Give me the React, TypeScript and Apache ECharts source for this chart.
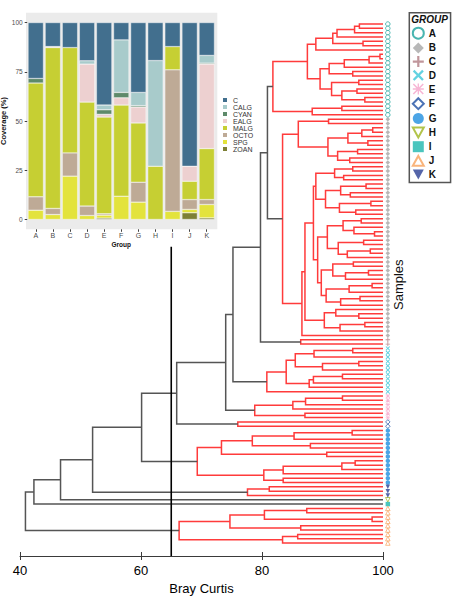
import React, { useEffect, useRef } from "react";
import * as echarts from "echarts";

const FONT = "'Liberation Sans', Arial, Helvetica, sans-serif";

// ---------------- Inset: coverage (%) by group ----------------
const COVER_GROUPS = ["A", "B", "C", "D", "E", "F", "G", "H", "I", "J", "K"];
const COVER_TYPES = ["C", "CALG", "CYAN", "EALG", "MALG", "OCTO", "SPG", "ZOAN"];
const COVER_COLORS = ["#426F8E", "#A8CBCB", "#5E8A6A", "#EDD0D0", "#C6CF33", "#BEAA96", "#E3E33C", "#7D8035"];
const COV_C = [28.4, 12.2, 12.7, 19.4, 41.9, 8.8, 35.5, 19.3, 12.2, 73.0, 16.7];
const COV_CALG = [0, 0, 0, 1.7, 2.4, 26.7, 6.7, 53.7, 0, 0, 3.9];
const COV_CYAN = [2.3, 0, 0, 0, 2.3, 2.7, 0.7, 0, 0, 0, 0.5];
const COV_EALG = [0, 0.5, 0, 19.3, 1.4, 3.7, 8.1, 0, 0, 7.6, 42.9];
const COV_MALG = [57.8, 81.7, 53.5, 52.8, 49.1, 46.3, 30.1, 27.0, 11.8, 9.3, 25.9];
const COV_OCTO = [6.8, 3.1, 11.8, 4.8, 0.7, 0, 10.1, 0, 71.9, 5.0, 2.5];
const COV_SPG = [4.7, 2.5, 22.0, 2.0, 1.5, 11.8, 8.8, 0, 4.1, 1.7, 6.8];
const COV_ZOAN = [0, 0, 0, 0, 0.7, 0, 0, 0, 0, 3.4, 0.8];
const COVER_VALUES = [COV_C, COV_CALG, COV_CYAN, COV_EALG, COV_MALG, COV_OCTO, COV_SPG, COV_ZOAN];
const COVER_TICKS = [0, 25, 50, 75, 100];

// ---------------- Dendrogram (Bray Curtis similarity) ----------------
const GROUPS = ["A", "B", "C", "D", "E", "F", "G", "H", "I", "J", "K"];
const GROUP_COLORS = ["#1BA39C", "#A6A6A6", "#B07C82", "#3CC7DA", "#F5A3C9", "#1E4FA3", "#1F8FE0", "#9FB51E", "#1DB6AE", "#F7A15A", "#2B3F94"];
const SYM_PLUS = "path://M4,0H6V4H10V6H6V10H4V6H0V4H4Z";
const SYM_CROSS = "path://M1.5,0L5,3.5L8.5,0L10,1.5L6.5,5L10,8.5L8.5,10L5,6.5L1.5,10L0,8.5L3.5,5L0,1.5Z";
const SYM_STAR = "path://M4.4,0H5.6V4.4H10V5.6H5.6V10H4.4V5.6H0V4.4H4.4Z M1,0L5,4L9,0L10,1L6,5L10,9L9,10L5,6L1,10L0,9L4,5L0,1Z";
const SYM_TRI_DOWN = "path://M0,0L10,0L5,9Z";
const SYM_TRI_UP = "path://M5,0L10,9L0,9Z";
const GROUP_SYMBOLS = ["circle", "diamond", SYM_PLUS, SYM_CROSS, SYM_STAR, "diamond", "circle", SYM_TRI_DOWN, "rect", SYM_TRI_UP, SYM_TRI_DOWN];
const GROUP_HOLLOW = [true, false, false, false, false, true, false, true, false, true, false];

const X_TICKS_MIN = 40;
const X_TICKS_MAX = 100;
const CUT_LEVEL = 65;

type Tree = string | { h: number; l: Tree; r: Tree; black?: boolean };
const red = (h: number, l: Tree, r: Tree): Tree => ({ h, l, r });
const blk = (h: number, l: Tree, r: Tree): Tree => ({ h, l, r, black: true });

const A_TOP = red(88.9, red(91.7, red(92.4, red(95.3, red(96.1, "A", "A"), "A"), "A"), red(96.7, "A", "A")), "A");
const A_MID = red(89.6,
  red(91.1, red(93.6, red(97.7, red(99.5, "A", "A"), "A"), "A"), red(95.0, "A", "A")),
  red(91.5, red(96.0, "A", "A"), red(93.2, red(95.7, "A", "A"), red(97.0, "A", "A"))));
const A_LOW = red(88.3, red(93.2, "A", "A"), "A");
const A_CLUSTER = red(81.8, red(87.5, A_TOP, A_MID), A_LOW);

const B_UP = red(86.0, red(91.0, "B", "B"),
  red(90.9, red(94.2, red(96.5, red(98.3, "B", "B"), "B"), red(97.5, "B", "B")),
    red(92.5, red(95.8, "B", "B"), red(94.5, "B", "B"))));
const B_P = red(88.9,
  red(92.0, red(95.0, "B", "B"), red(93.5, "B", "B")),
  red(90.5, red(93.0, red(97.2, "B", "B"), red(94.6, "B", "B")), red(92.8, red(98.0, "B", "B"), red(95.5, "B", "B"))));
const B_Q = red(89.2,
  red(90.8, red(93.4, red(96.4, "B", "B"), red(95.2, "B", red(98.6, "B", "B"))),
    red(92.6, red(96.8, "B", "B"), red(94.1, red(97.9, "B", "B"), "B"))),
  red(89.8, red(91.7, red(95.1, "B", "B"), red(93.8, red(97.6, "B", "B"), "B")),
    red(90.6, red(94.4, red(98.2, "B", "B"), "B"), red(93.0, red(96.2, "B", "B"), "B"))));
const B_XLOW = red(90.3, red(92.2, "B", red(96.0, "B", "B")), red(92.9, red(97.0, "B", "B"), "B"));
const B_CLUSTER = red(83.4, B_UP, red(86.6, red(87.1, red(88.5, B_P, B_Q), B_XLOW), "B"));

const C_CLUSTER = red(86.4, "C", "C");
const D_CLUSTER = red(80.8, red(84.0,
  red(85.5, red(88.6, red(95.0, "D", "D"), "D"), red(90.0, red(96.0, "D", "D"), "D")),
  red(87.8, red(88.5, red(93.3, "D", "D"), "D"), "D")), "D");
const E_CLUSTER = red(78.8, red(85.1, red(87.2, red(93.3, "E", "E"), "E"), "E"), red(87.1, "E", "E"));
const F_CLUSTER = red(76.0, "F", "F");
const G_CLUSTER = red(69.3,
  red(73.3, red(78.4, red(85.3, red(94.9, "G", "G"), "G"), red(88.0, "G", "G")), red(90.7, "G", "G")),
  red(80.3, red(83.5, red(93.2, red(95.4, "G", "G"), "G"), "G"), red(83.5, "G", "G")));
const K_CLUSTER = red(77.6, red(81.2, "K", "K"), "K");
const J_CLUSTER = red(66.3,
  red(74.7, red(80.4, red(87.4, "J", "J"), red(98.2, "J", "J")), red(86.4, "J", "J")),
  red(83.4, red(85.9, "J", "J"), "J"));

const TREE = blk(40.9,
  blk(42.3,
    blk(46.7,
      blk(52.0,
        blk(60.1,
          blk(65.9,
            blk(74.0,
              blk(75.2,
                blk(79.75, blk(80.9, A_CLUSTER, B_CLUSTER), C_CLUSTER),
                D_CLUSTER),
              E_CLUSTER),
            F_CLUSTER),
          G_CLUSTER),
        K_CLUSTER),
      "H"),
    "I"),
  J_CLUSTER);

function layoutTree(tree: Tree) {
  const leaves: string[] = [];
  const segs: number[][] = [];
  const walk = (t: Tree): { y: number; h: number } => {
    if (typeof t === "string") {
      leaves.push(t);
      return { y: leaves.length - 1, h: X_TICKS_MAX };
    }
    const L = walk(t.l);
    const R = walk(t.r);
    segs.push([t.h, L.y, R.y, L.h, R.h, t.black ? 1 : 0]);
    return { y: (L.y + R.y) / 2, h: t.h };
  };
  walk(tree);
  return { leaves, segs };
}

export default function App() {
  const ref = useRef<HTMLDivElement>(null);
  useEffect(() => {
    if (!ref.current) return;
    const chart = echarts.init(ref.current, null, { renderer: "svg" });
    const { leaves, segs } = layoutTree(TREE);
    const nLeaves = leaves.length;
    const yMax = nLeaves + 2; // axis bottom (index units)
    const cutFrom = 51.5;
    const markerX = 100.8;

    const groupSeries = GROUPS.map((g, gi) => ({
      type: "scatter",
      name: "grp-" + g,
      xAxisIndex: 0,
      yAxisIndex: 0,
      clip: false,
      silent: true,
      z: 3,
      symbol: GROUP_SYMBOLS[gi],
      symbolSize: 4.5,
      itemStyle: GROUP_HOLLOW[gi]
        ? { color: "#fff", borderColor: GROUP_COLORS[gi], borderWidth: 0.9 }
        : { color: GROUP_COLORS[gi], borderWidth: 0 },
      data: leaves.map((lg, i) => (lg === g ? [markerX, i] : null)).filter((d) => d !== null),
    }));

    const barSeries = COVER_TYPES.slice().reverse().map((t) => {
      const idx = COVER_TYPES.indexOf(t);
      return {
        type: "bar",
        name: t,
        xAxisIndex: 1,
        yAxisIndex: 1,
        stack: "cov",
        barWidth: "90%",
        silent: true,
        itemStyle: { color: COVER_COLORS[idx], borderColor: "#fff", borderWidth: 0.4 },
        data: COVER_VALUES[idx].map((v) => (v === 0 ? "-" : v)),
      };
    });

    const option: any = {
      animation: false,
      textStyle: { fontFamily: FONT },
      grid: [
        { left: 20, right: 70, top: 2.4, bottom: 44, outerBoundsMode: "none" },
        { left: 27.2, top: 12.7, width: 188.1, height: 216.6, outerBoundsMode: "none" },
      ],
      xAxis: [
        {
          gridIndex: 0,
          type: "value",
          min: X_TICKS_MIN,
          max: X_TICKS_MAX,
          interval: 20,
          position: "bottom",
          axisLine: { show: true, onZero: false, lineStyle: { color: "#3a3a3a", width: 1 } },
          axisTick: { show: true, length: 4, lineStyle: { color: "#3a3a3a", width: 1 } },
          axisLabel: { fontSize: 13, color: "#000", margin: 8, fontFamily: FONT },
          splitLine: { show: false },
          name: "Bray Curtis",
          nameLocation: "middle",
          nameGap: 22,
          nameTextStyle: { fontSize: 13, color: "#000", fontFamily: FONT },
        },
        {
          gridIndex: 1,
          type: "category",
          data: COVER_GROUPS,
          axisLine: { show: false, onZero: false },
          axisTick: { show: true, alignWithLabel: true, length: 2.5, lineStyle: { color: "#444" } },
          axisLabel: { fontSize: 7, color: "#4D4D4D", margin: 2.5, fontFamily: FONT },
          splitLine: { show: false },
          name: "Group",
          nameLocation: "middle",
          nameGap: 11.5,
          nameTextStyle: { fontSize: 6.5, fontWeight: "bold", color: "#111", fontFamily: FONT },
        },
        {
          gridIndex: 0,
          type: "value",
          min: X_TICKS_MIN,
          max: X_TICKS_MAX,
          interval: 20,
          position: "bottom",
          axisLine: { show: false, onZero: false },
          axisTick: { show: true, inside: true, length: 4, lineStyle: { color: "#3a3a3a", width: 1 } },
          axisLabel: { show: false },
          splitLine: { show: false },
        },
      ],
      yAxis: [
        { gridIndex: 0, type: "value", min: -5, max: yMax, inverse: true, show: false },
        {
          gridIndex: 1,
          type: "value",
          min: -5,
          max: 105,
          axisLine: { show: false, onZero: false },
          axisTick: { show: true, length: 2.5, customValues: COVER_TICKS, lineStyle: { color: "#444" } },
          axisLabel: { fontSize: 6.5, color: "#4D4D4D", margin: 4.5, customValues: COVER_TICKS, fontFamily: FONT },
          splitLine: { show: false },
          name: "Coverage (%)",
          nameLocation: "middle",
          nameGap: 14,
          nameTextStyle: { fontSize: 7.5, fontWeight: "bold", color: "#111", fontFamily: FONT },
        },
      ],
      legend: [
        {
          orient: "vertical",
          left: 409.3,
          top: 12.7,
          padding: [14, 14, 3, 2.5],
          itemWidth: 11,
          itemHeight: 11,
          itemGap: 2.7,
          borderColor: "#555",
          borderWidth: 1.5,
          selectedMode: false,
          textStyle: { fontSize: 10, fontWeight: "bold", color: "#111", fontFamily: FONT },
          formatter: (name: string) => name.replace("grp-", ""),
          data: GROUPS.map((g, gi) => ({
            name: "grp-" + g,
            icon: GROUP_SYMBOLS[gi],
            itemStyle: GROUP_HOLLOW[gi]
              ? { color: "#fff", borderColor: GROUP_COLORS[gi], borderWidth: 2 }
              : { color: GROUP_COLORS[gi], borderWidth: 0 },
          })),
        },
        {
          orient: "vertical",
          left: 221,
          top: 96,
          padding: 0,
          itemWidth: 6,
          itemHeight: 6,
          itemGap: -1,
          selectedMode: false,
          textStyle: { fontSize: 7, color: "#333", lineHeight: 6, fontFamily: FONT },
          data: COVER_TYPES.map((t) => ({ name: t, icon: "rect" })),
        },
      ],
      graphic: [
        { type: "rect", z: -10, silent: true, shape: { x: 26, y: 12.7, width: 191.3, height: 216.6 }, style: { fill: "#EBEBEB" } },
        {
          type: "text", x: 429.5, y: 19.5, silent: true,
          style: { text: "GROUP", fontSize: 10, fontWeight: "bold", fontStyle: "italic", fill: "#111", align: "center", verticalAlign: "middle", fontFamily: FONT },
        },
        {
          type: "text", x: 398.8, y: 284.7, rotation: Math.PI / 2, silent: true,
          style: { text: "Samples", fontSize: 13, fill: "#111", align: "center", verticalAlign: "middle", fontFamily: FONT },
        },
      ],
      series: [
        {
          type: "custom",
          xAxisIndex: 0,
          yAxisIndex: 0,
          clip: false,
          silent: true,
          z: 2,
          encode: { x: [0, 3, 4], y: [1, 2] },
          data: segs,
          renderItem: (params: any, api: any) => {
            const h = api.value(0), yl = api.value(1), yr = api.value(2), hl = api.value(3), hr = api.value(4), b = api.value(5);
            const pts = [api.coord([hl, yl]), api.coord([h, yl]), api.coord([h, yr]), api.coord([hr, yr])];
            return {
              type: "polyline",
              shape: { points: pts },
              style: { stroke: b ? "#555555" : "#FF3B3B", fill: "none", lineWidth: 1.5 },
            };
          },
        },
        {
          type: "line",
          xAxisIndex: 0,
          yAxisIndex: 0,
          silent: true,
          z: 4,
          symbol: "none",
          lineStyle: { color: "#000", width: 1.6 },
          data: [[CUT_LEVEL, cutFrom], [CUT_LEVEL, yMax]],
        },
        ...groupSeries,
        ...barSeries,
      ],
    };
    chart.setOption(option);
    return () => chart.dispose();
  }, []);
  return <div ref={ref} style={{ position: "fixed", left: 0, top: 0, width: 453, height: 600, background: "#fff" }} />;
}
